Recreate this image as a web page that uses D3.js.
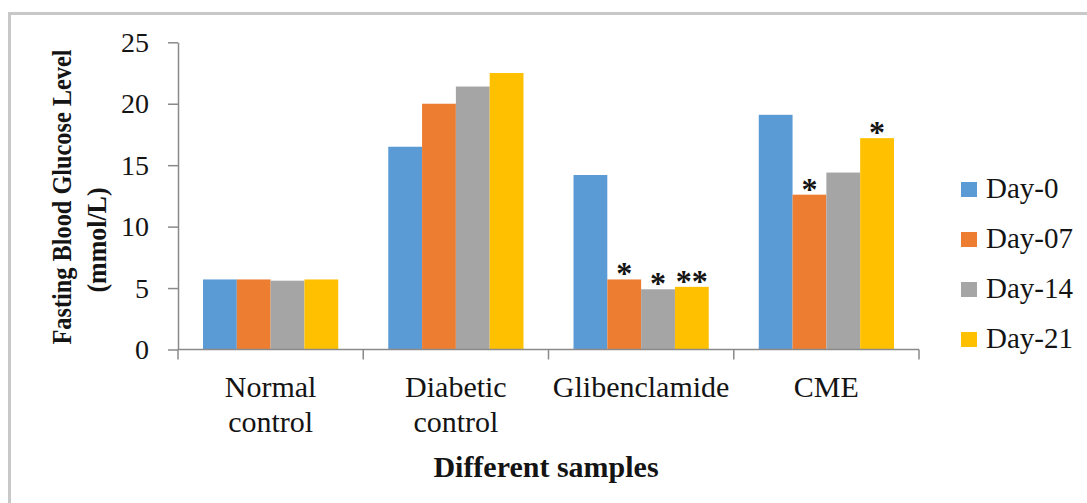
<!DOCTYPE html>
<html>
<head>
<meta charset="utf-8">
<script src="https://cdn.jsdelivr.net/npm/d3@7"></script>
<style>
  body { margin: 0; background: #fff; }
  #chart-container { width: 1087px; height: 503px; }
  svg text { font-family: "Liberation Serif", "Times New Roman", Times, serif; fill: #141414; }
</style>
</head>
<body>
<div id="chart-container"></div>
<script>
const categories = ["Normal control", "Diabetic control", "Glibenclamide", "CME"];
const seriesNames = ["Day-0", "Day-07", "Day-14", "Day-21"];
const day0  = [5.7, 16.5, 14.2, 19.1];
const day07 = [5.7, 20.0, 5.7, 12.6];
const day14 = [5.6, 21.4, 4.9, 14.4];
const day21 = [5.7, 22.5, 5.1, 17.2];
// significance marks per category, one per series
const stars = [
  ["", "", "", ""],
  ["", "", "", ""],
  ["", "*", "*", "**"],
  ["", "*", "", "*"]
];
const yTicks = [0, 5, 10, 15, 20, 25];
const colors = ["#5b9bd5", "#ed7d31", "#a5a5a5", "#ffc000"];

const seriesValues = [day0, day07, day14, day21];
const data = categories.map((c, i) => ({
  category: c,
  values: seriesNames.map((s, j) => ({ series: s, value: seriesValues[j][i], star: stars[i][j] }))
}));

const FONT = "'Liberation Serif', 'Times New Roman', Times, serif";

const svg = d3.select("#chart-container")
  .append("svg")
  .attr("width", 1087)
  .attr("height", 503);

// outer frame
svg.append("rect")
  .attr("x", 9.5).attr("y", 13.5)
  .attr("width", 1100).attr("height", 520)
  .attr("fill", "none")
  .attr("stroke", "#c8c8c8")
  .attr("stroke-width", 3);

const plotLeft = 178, plotRight = 919;
const y0 = 349.5, yTop = 42.3;

const x0 = d3.scaleBand()
  .domain(categories)
  .range([plotLeft, plotRight])
  .paddingInner(0.27)
  .paddingOuter(0.135);

const x1 = d3.scaleBand()
  .domain(seriesNames)
  .range([0, x0.bandwidth()]);

const y = d3.scaleLinear()
  .domain([0, 25])
  .range([y0, yTop]);

const color = d3.scaleOrdinal().domain(seriesNames).range(colors);

// y axis
const yAxis = svg.append("g")
  .attr("transform", `translate(${plotLeft},0)`)
  .call(d3.axisLeft(y).tickValues(yTicks).tickSize(10).tickPadding(19).tickSizeOuter(0))
  .attr("font-family", FONT)
  .attr("font-size", 28);
yAxis.select(".domain").attr("stroke", "#8a8a8a").attr("stroke-width", 1.5);
yAxis.selectAll(".tick line").attr("stroke", "#8a8a8a").attr("stroke-width", 1.5);
yAxis.selectAll(".tick text").attr("fill", "#141414");

// bars
const groups = svg.selectAll("g.cat")
  .data(data)
  .join("g")
  .attr("class", "cat")
  .attr("transform", d => `translate(${x0(d.category)},0)`);

groups.selectAll("rect")
  .data(d => d.values)
  .join("rect")
  .attr("x", d => x1(d.series))
  .attr("y", d => y(d.value))
  .attr("width", x1.bandwidth())
  .attr("height", d => y(0) - y(d.value))
  .attr("fill", d => color(d.series));

groups.selectAll("text.star")
  .data(d => d.values.filter(v => v.star))
  .join("text")
  .attr("class", "star")
  .attr("x", d => x1(d.series) + x1.bandwidth() / 2)
  .attr("y", d => y(d.value) + 5)
  .attr("text-anchor", "middle")
  .attr("font-size", 32)
  .attr("font-weight", "bold")
  .text(d => d.star);

// x axis line and boundary ticks
const xAxis = svg.append("g");
xAxis.append("line")
  .attr("x1", plotLeft).attr("x2", plotRight)
  .attr("y1", y0).attr("y2", y0)
  .attr("stroke", "#8a8a8a").attr("stroke-width", 1.5);
xAxis.selectAll("line.tk")
  .data(d3.range(categories.length + 1))
  .join("line")
  .attr("class", "tk")
  .attr("x1", i => plotLeft + i * x0.step())
  .attr("x2", i => plotLeft + i * x0.step())
  .attr("y1", y0).attr("y2", y0 + 10)
  .attr("stroke", "#8a8a8a").attr("stroke-width", 1.5);

xAxis.selectAll("text.lbl")
  .data(categories)
  .join("text")
  .attr("class", "lbl")
  .attr("text-anchor", "middle")
  .attr("font-size", 30)
  .attr("x", d => x0(d) + x0.bandwidth() / 2)
  .attr("y", 397)
  .each(function(d) {
    const lines = d.split(" ");
    d3.select(this).selectAll("tspan")
      .data(lines)
      .join("tspan")
      .attr("x", x0(d) + x0.bandwidth() / 2)
      .attr("dy", (l, i) => i === 0 ? 0 : 35)
      .text(l => l);
  });

// axis titles
svg.append("text")
  .attr("x", 546).attr("y", 477)
  .attr("text-anchor", "middle")
  .attr("font-size", 30)
  .attr("font-weight", "bold")
  .text("Different samples");

svg.append("text")
  .attr("transform", "translate(71,197) rotate(-90)")
  .attr("text-anchor", "middle")
  .attr("font-size", 28)
  .attr("font-weight", "bold")
  .attr("textLength", 295)
  .attr("lengthAdjust", "spacingAndGlyphs")
  .text("Fasting Blood Glucose Level");

svg.append("text")
  .attr("transform", "translate(106,240) rotate(-90)")
  .attr("text-anchor", "middle")
  .attr("font-size", 28)
  .attr("font-weight", "bold")
  .attr("textLength", 105)
  .attr("lengthAdjust", "spacingAndGlyphs")
  .text("(mmol/L)");

// legend
const legend = svg.append("g")
  .selectAll("g")
  .data(seriesNames)
  .join("g")
  .attr("transform", (d, i) => `translate(961,${198 + i * 50})`);

legend.append("rect")
  .attr("x", 0).attr("y", -16)
  .attr("width", 16).attr("height", 15)
  .attr("fill", d => color(d));

legend.append("text")
  .attr("x", 25).attr("y", 0)
  .attr("font-size", 29)
  .text(d => d);
</script>
</body>
</html>
